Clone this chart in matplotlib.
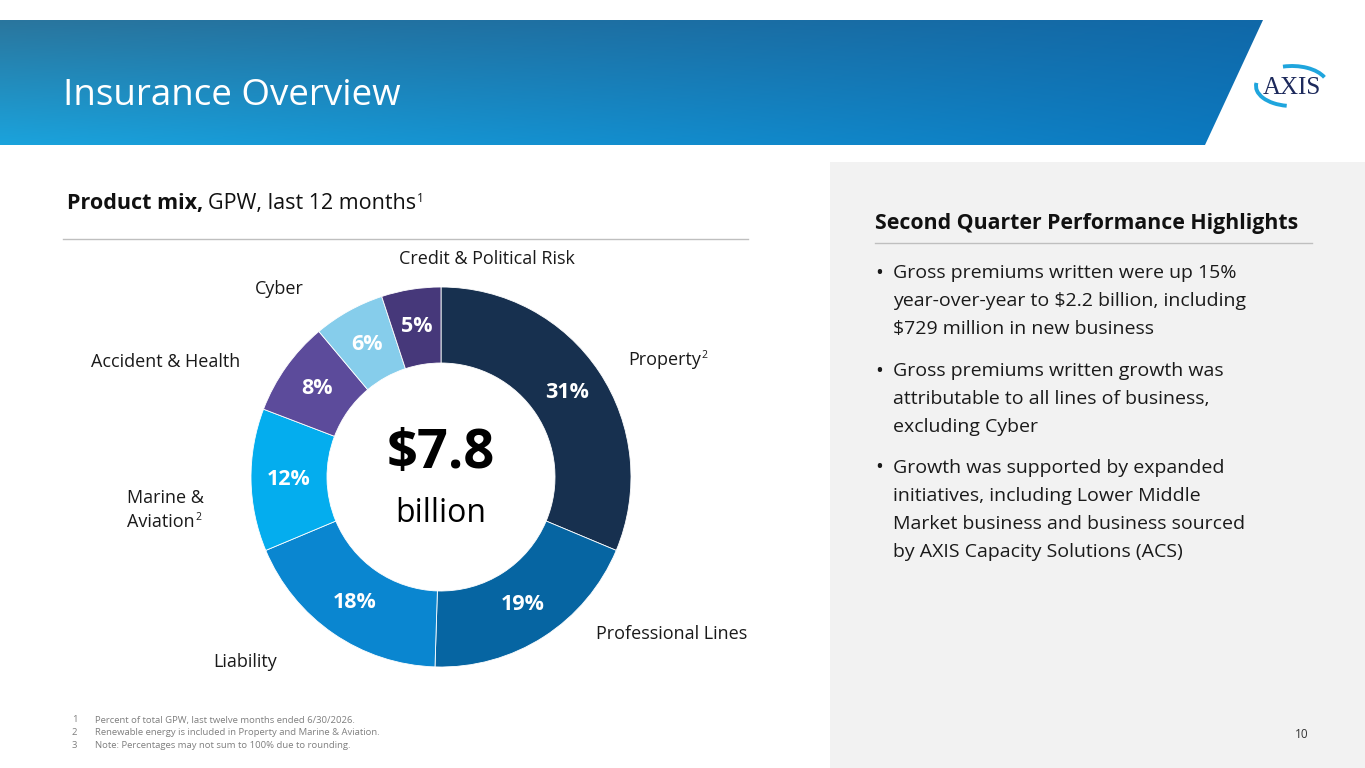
import numpy as np
import matplotlib
matplotlib.use("Agg")
import matplotlib.pyplot as plt
from matplotlib.patches import Polygon, Rectangle, Arc

plt.rcParams['font.family'] = ['Open Sans', 'DejaVu Sans']

# ---- data ----
categories = ['Property', 'Professional Lines', 'Liability', 'Marine & Aviation',
              'Accident & Health', 'Cyber', 'Credit & Political Risk']
shares = [31, 19, 18, 12, 8, 6, 5]
colors = ['#17304f', '#0665a2', '#0a86d0', '#04adee', '#5c4b9b', '#86cdeb', '#46387a']
total_gpw = '$7.8'

# label lines + superscript + layout (pixel coords, y down)
cat_labels = [(['Property'], '2'), (['Professional Lines'], ''), (['Liability'], ''),
              (['Marine &', 'Aviation'], '2'), (['Accident & Health'], ''), (['Cyber'], ''),
              (['Credit & Political Risk'], '')]
cat_pos = [(628, 360, 'left'), (596, 634, 'left'), (277, 662, 'right'), (127, 498, 'left'),
           (240, 362, 'right'), (304, 289, 'right'), (487, 259, 'center')]

bullets = [
    ["Gross premiums written were up 15%", "year-over-year to $2.2 billion, including",
     "$729 million in new business"],
    ["Gross premiums written growth was", "attributable to all lines of business,",
     "excluding Cyber"],
    ["Growth was supported by expanded", "initiatives, including Lower Middle",
     "Market business and business sourced", "by AXIS Capacity Solutions (ACS)"],
]
footnotes = [
    "Percent of total GPW, last twelve months ended 6/30/2026.",
    "Renewable energy is included in Property and Marine & Aviation.",
    "Note: Percentages may not sum to 100% due to rounding.",
]

W, H = 1365, 768
fig = plt.figure(figsize=(W / 100, H / 100), dpi=100)
ax = fig.add_axes([0, 0, 1, 1])
ax.set_xlim(0, W)
ax.set_ylim(H, 0)
ax.axis('off')
renderer = fig.canvas.get_renderer()


def right_px(t):
    return t.get_window_extent(renderer).x1 * W / fig.bbox.width


# header band with gradient
top = np.array([[0x2a, 0x76, 0x9e], [0x10, 0x68, 0xa8]]) / 255
bot = np.array([[0x1b, 0xa3, 0xdc], [0x0b, 0x78, 0xbf]]) / 255
nx, ny = 300, 60
tx = np.linspace(0, 1, nx)[None, :, None]
ty = np.linspace(0, 1, ny)[:, None, None]
row_top = top[0] * (1 - tx) + top[1] * tx
row_bot = bot[0] * (1 - tx) + bot[1] * tx
grad = row_top * (1 - ty) + row_bot * ty
im = ax.imshow(grad, extent=(0, 1263, 145, 20), origin='upper', aspect='auto', zorder=1)
band = Polygon([(0, 20), (1263, 20), (1205, 145), (0, 145)], closed=True,
               facecolor='none', edgecolor='none', transform=ax.transData)
ax.add_patch(band)
im.set_clip_path(band)
ax.set_xlim(0, W)
ax.set_ylim(H, 0)

ax.text(63, 96, 'Insurance Overview', color='white', fontsize=26.5, va='center', ha='left', zorder=3)

# logo
ax.text(1292, 88, 'AXIS', family=['Liberation Serif', 'DejaVu Serif'], fontsize=18,
        color='#1d2a5c', ha='center', va='center', zorder=3)
ax.add_patch(Arc((1292, 86), 72, 40, theta1=245, theta2=345, color='#1fa5dd', lw=2.8, zorder=3))
ax.add_patch(Arc((1292, 86), 72, 40, theta1=105, theta2=185, color='#1fa5dd', lw=2.8, zorder=3))

# right gray panel
ax.add_patch(Rectangle((830, 162), W - 830, H - 162, facecolor='#f2f2f2', edgecolor='none', zorder=0))

# left subtitle
t1 = ax.text(67, 204, 'Product mix,', fontsize=15.5, fontweight='bold', va='center', ha='left',
             color='#111111')
t2 = ax.text(right_px(t1) + 5, 204, 'GPW, last 12 months', fontsize=15.5, va='center', ha='left',
             color='#111111')
ax.text(right_px(t2) + 1, 198, '1', fontsize=8.5, va='center', ha='left', color='#111111')
ax.plot([63, 748], [239, 239], color='#bfbfbf', lw=1)

# right heading and bullets
ax.text(875, 224, 'Second Quarter Performance Highlights', fontsize=15.3, fontweight='bold',
        va='center', ha='left', color='#111111')
ax.plot([875, 1312], [243, 243], color='#bfbfbf', lw=1)
y0 = [273, 371, 468]
for yb, lines in zip(y0, bullets):
    ax.text(875, yb, '\u2022', fontsize=15, va='center', ha='left', color='#1a1a1a')
    for k, ln in enumerate(lines):
        ax.text(893, yb + 28 * k, ln, fontsize=14, va='center', ha='left', color='#1a1a1a')

# footnotes
for i, fn in enumerate(footnotes):
    ax.text(72, 720 + 12.5 * i, str(i + 1), fontsize=6.8, color='#7f7f7f', va='center')
    ax.text(95, 720 + 12.5 * i, fn, fontsize=6.8, color='#7f7f7f', va='center')
ax.text(1302, 735, '10', fontsize=8.5, color='#333333', va='center', ha='center')

# donut
cx, cy, R = 441, 477, 190
pax = fig.add_axes([(cx - R) / W, (H - cy - R) / H, 2 * R / W, 2 * R / H])
wedges, _, autotexts = pax.pie(shares, colors=colors, startangle=90, counterclock=False,
                               radius=1, wedgeprops=dict(width=0.4, edgecolor='white', linewidth=0.6),
                               autopct='%.0f%%', pctdistance=0.8)
for t in autotexts:
    t.set_color('white')
    t.set_fontsize(15.5)
    t.set_fontweight('bold')
pax.set_xlim(-1, 1)
pax.set_ylim(-1, 1)
pax.set_aspect('auto')
pax.axis('off')
pax.text(0, 0.12, total_gpw, fontsize=39, fontweight='bold', ha='center', va='center')
pax.text(0, -0.19, 'billion', fontsize=23, ha='center', va='center')

for (lines, sup), (lx, ly, ha) in zip(cat_labels, cat_pos):
    t = None
    for k, ln in enumerate(lines):
        t = ax.text(lx, ly + 24 * k, ln, fontsize=13, ha=ha, va='center', color='#1a1a1a')
    if sup:
        ax.text(right_px(t) + 1, ly + 24 * (len(lines) - 1) - 5, sup, fontsize=7.5,
                ha='left', va='center', color='#1a1a1a')

fig.savefig('out.png', dpi=100)
